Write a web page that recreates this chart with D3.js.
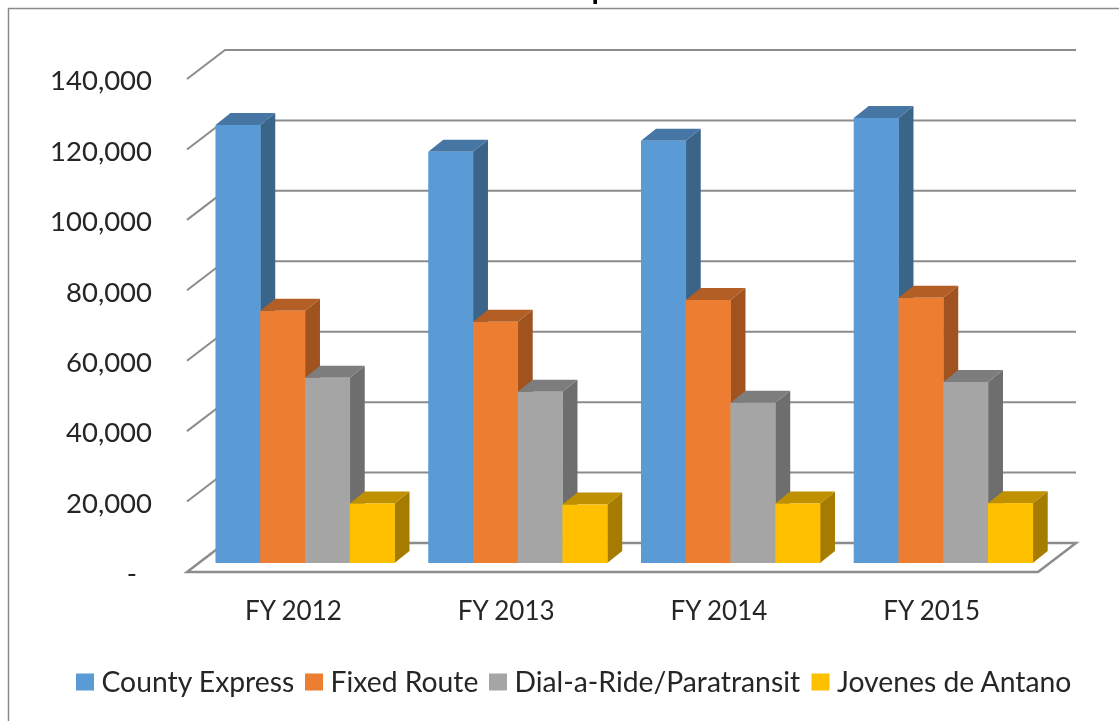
<!DOCTYPE html>
<html>
<head>
<meta charset="utf-8">
<script src="https://cdn.jsdelivr.net/npm/d3@7"></script>
<style>
  html, body { margin: 0; padding: 0; background: #fff; overflow: hidden; }
  svg { display: block; filter: blur(0.6px); }
  text { font-family: Lato, "Open Sans", sans-serif; fill: #262626; }
</style>
</head>
<body>
<svg id="chart" width="1119" height="721"></svg>
<script>
const categories = ["FY 2012", "FY 2013", "FY 2014", "FY 2015"]
const seriesNames = ["County Express", "Fixed Route", "Dial-a-Ride/Paratransit", "Jovenes de Antano"]

// values
const countyExpress = [124400, 116800, 119900, 126400]
const fixedRoute = [71600, 68500, 74700, 75300]
const dialARide = [52600, 48600, 45500, 51400]
const jovenes = [16900, 16600, 16900, 17000]
const seriesValues = [countyExpress, fixedRoute, dialARide, jovenes]

const yTicks = [0, 20000, 40000, 60000, 80000, 100000, 120000, 140000]

// front, top, side of each bar
const colors = ["#5b9bd5", "#ed7d31", "#a5a5a5", "#ffc000"]
const topColors = ["#4676a3", "#b25e25", "#7d7d7d", "#bf9000"]
const sideColors = ["#3b6489", "#a0531f", "#6e6e6e", "#a67c00"]

const svg = d3.select("#chart")

// 3d offsets: wall depth and bar depth
const wall = {dx: 38, dy: -29}
const barInset = {dx: 11.6, dy: -9}
const barDepth = {dx: 15, dy: -12}

const y = d3.scaleLinear().domain([0, 140000]).range([572, 79])
const x = d3.scaleBand().domain(categories).range([187, 1038])
    .paddingInner(0.1586).paddingOuter(0.0793)
const xLabel = d3.scaleBand().domain(categories).range([187, 1038])
const xSeries = d3.scaleBand().domain(seriesNames).range([0, x.bandwidth()])

// chart frame, right and bottom edges are cropped in the source
svg.append("path")
    .attr("d", "M8.5,721V8.5H1119")
    .attr("fill", "none")
    .attr("stroke", "#8a8a8a")
    .attr("stroke-width", 1.5)

// only the tail of the cropped title shows
svg.append("text")
    .attr("x", 600)
    .attr("y", -1)
    .attr("text-anchor", "middle")
    .attr("font-size", 30)
    .attr("font-weight", 700)
    .style("fill", "#000")
    .text("p")

// gridlines on the wall
const xRight = xLabel.range()[1]
svg.append("g").selectAll("path")
    .data(yTicks.slice(1))
    .join("path")
    .attr("d", d => `M187,${y(d)}L${187 + wall.dx},${y(d) + wall.dy}H${xRight + wall.dx}`)
    .attr("fill", "none")
    .attr("stroke", "#8c8c8c")
    .attr("stroke-width", 2)

// floor
svg.append("path")
    .attr("d", `M187,${y(0)}L${187 + wall.dx},${y(0) + wall.dy}H${xRight + wall.dx}L${xRight},${y(0)}Z`)
    .attr("fill", "#fff")
    .attr("stroke", "#8c8c8c")
    .attr("stroke-width", 2.5)

// bars, left to right so each one overlaps the previous side
const barRows = []
categories.forEach((c, i) => {
    seriesNames.forEach((s, j) => {
        barRows.push({category: c, series: s, j: j, value: seriesValues[j][i]})
    })
})

const bar = svg.append("g").selectAll("g")
    .data(barRows)
    .join("g")
    .attr("transform", d => `translate(${x(d.category) + xSeries(d.series) + barInset.dx},${barInset.dy})`)

const w = xSeries.bandwidth()

bar.append("path")
    .attr("fill", d => sideColors[d.j])
    .attr("d", d => `M${w},${y(d.value)}l${barDepth.dx},${barDepth.dy}V${y(0) + barDepth.dy}l${-barDepth.dx},${-barDepth.dy}Z`)

bar.append("path")
    .attr("fill", d => topColors[d.j])
    .attr("d", d => `M0,${y(d.value)}l${barDepth.dx},${barDepth.dy}h${w}l${-barDepth.dx},${-barDepth.dy}Z`)

bar.append("rect")
    .attr("fill", d => colors[d.j])
    .attr("x", 0)
    .attr("y", d => y(d.value))
    .attr("width", w + 0.4)
    .attr("height", d => y(0) - y(d.value))

// value axis labels
const yAxis = d3.axisLeft(y)
    .tickValues(yTicks)
    .tickSize(0)
    .tickPadding(0)
    .tickFormat(d => d === 0 ? "-" : d3.format(",")(d))

const yG = svg.append("g")
    .attr("transform", "translate(152,2)")
    .call(yAxis)
yG.select(".domain").remove()
yG.selectAll("text")
    .attr("font-size", 27.5)
    .style("font-family", "Lato")
    .attr("dx", d => d === 0 ? -15 : 0)

// category labels
const xAxis = d3.axisBottom(xLabel).tickSize(0).tickPadding(0)
const xG = svg.append("g")
    .attr("transform", "translate(0,602)")
    .call(xAxis)
xG.select(".domain").remove()
xG.selectAll("text")
    .attr("font-size", 26)
    .style("font-family", "Lato")

// legend
const legendX = [76, 305, 489, 811.5]
const legend = svg.append("g").selectAll("g")
    .data(seriesNames)
    .join("g")
    .attr("transform", (d, i) => `translate(${legendX[i]},673.5)`)

legend.append("rect")
    .attr("width", 18)
    .attr("height", 17)
    .attr("fill", (d, i) => colors[i])

legend.append("text")
    .attr("x", 25.5)
    .attr("y", 18.5)
    .attr("font-size", 28.3)
    .text(d => d)
</script>
</body>
</html>
